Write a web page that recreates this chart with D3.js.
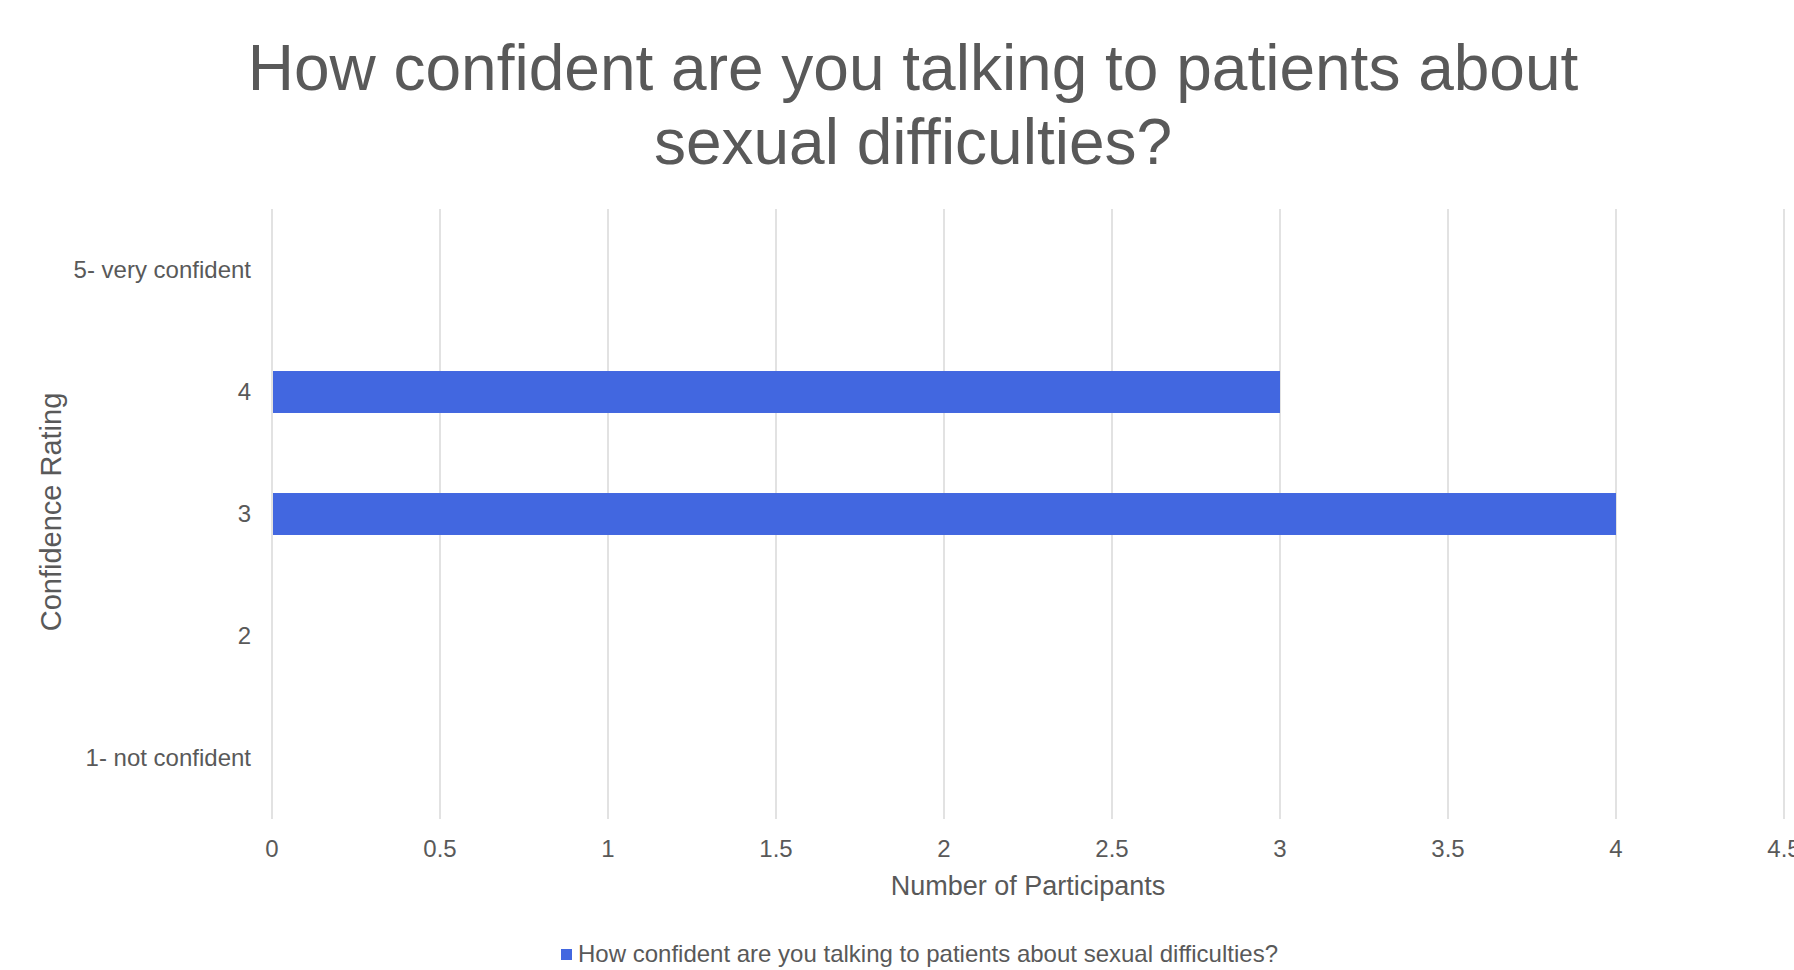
<!DOCTYPE html>
<html>
<head>
<meta charset="utf-8">
<script src="https://cdn.jsdelivr.net/npm/d3@7"></script>
<style>
  body { margin: 0; background: #fff; }
  text { font-family: "Liberation Sans", Arial, sans-serif; fill: #595959; }
</style>
</head>
<body>
<div id="chart"></div>
<script>
const categories = ["5- very confident", "4", "3", "2", "1- not confident"];
const values = [0, 3, 4, 0, 0];
const xTicks = [0, 0.5, 1, 1.5, 2, 2.5, 3, 3.5, 4, 4.5];
const titleLines = ["How confident are you talking to patients about", "sexual difficulties?"];
const seriesName = "How confident are you talking to patients about sexual difficulties?";

const width = 1794, height = 970;
const margin = { top: 209, right: 10, bottom: 151, left: 272 };

const svg = d3.select("#chart")
  .append("svg")
  .attr("width", width)
  .attr("height", height);

const x = d3.scaleLinear().domain([0, 4.5]).range([margin.left, margin.left + 336 * 4.5]);
const y = d3.scaleBand().domain(categories)
  .range([margin.top, height - margin.bottom])
  .paddingInner(0.656)
  .paddingOuter(0.328);

// gridlines
svg.append("g")
  .selectAll("line")
  .data(xTicks)
  .enter()
  .append("line")
  .attr("x1", d => x(d)).attr("x2", d => x(d))
  .attr("y1", margin.top).attr("y2", height - margin.bottom)
  .attr("stroke", "#d9d9d9")
  .style("stroke-width", "1.5px");

// bars
svg.append("g")
  .selectAll("rect")
  .data(categories.map((c, i) => ({ c, v: values[i] })).filter(d => d.v > 0))
  .enter()
  .append("rect")
  .attr("x", x(0) + 1)
  .attr("y", d => y(d.c))
  .attr("width", d => x(d.v) - x(0) - 1)
  .attr("height", y.bandwidth())
  .attr("fill", "#4267e0");

// x tick labels
svg.append("g")
  .selectAll("text")
  .data(xTicks)
  .enter()
  .append("text")
  .attr("x", d => x(d))
  .attr("y", 857)
  .attr("text-anchor", "middle")
  .style("font-size", "24px")
  .text(d => d);

// y tick labels
svg.append("g")
  .selectAll("text")
  .data(categories)
  .enter()
  .append("text")
  .attr("x", 251)
  .attr("y", d => y(d) + y.bandwidth() / 2)
  .attr("dy", "0.35em")
  .attr("text-anchor", "end")
  .style("font-size", "24px")
  .text(d => d);

// title
svg.append("g")
  .selectAll("text")
  .data(titleLines)
  .enter()
  .append("text")
  .attr("x", 913)
  .attr("y", (d, i) => 90 + i * 74)
  .attr("text-anchor", "middle")
  .style("font-size", "64px")
  .text(d => d);

// axis titles
svg.append("text")
  .attr("x", 1028)
  .attr("y", 895)
  .attr("text-anchor", "middle")
  .style("font-size", "27px")
  .text("Number of Participants");

svg.append("text")
  .attr("transform", "translate(61, 512) rotate(-90)")
  .attr("text-anchor", "middle")
  .style("font-size", "29px")
  .text("Confidence Rating");

// legend
svg.append("rect")
  .attr("x", 561).attr("y", 949)
  .attr("width", 11).attr("height", 11)
  .attr("fill", "#4267e0");

svg.append("text")
  .attr("x", 578)
  .attr("y", 962)
  .style("font-size", "24px")
  .text(seriesName);
</script>
</body>
</html>
